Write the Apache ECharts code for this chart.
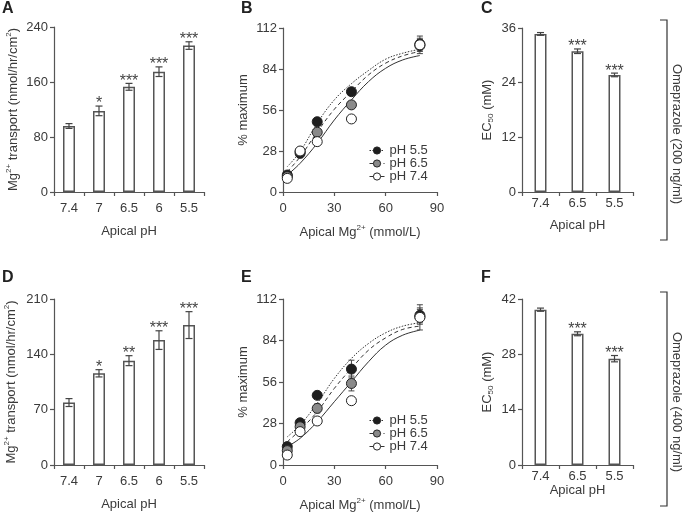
<!DOCTYPE html>
<html><head><meta charset="utf-8">
<script src="https://cdn.jsdelivr.net/npm/echarts@6/dist/echarts.min.js"></script>
<style>html,body{margin:0;padding:0;background:#fff}#c{width:685px;height:514px}</style>
</head><body><div id="c"></div>
<script>
// ---------- data ----------
const phCats5 = ['7.4', '7', '6.5', '6', '5.5'];
const phCats3 = ['7.4', '6.5', '5.5'];

const transportA = [96, 118, 153, 175, 213];
const transportAErr = [3.5, 7, 5, 7, 5.5];
const starsA = ['', '*', '***', '***', '***'];

const transportD = [79, 116, 132, 158, 177];
const transportDErr = [5, 4.6, 6.3, 11.8, 17];
const starsD = ['', '*', '**', '***', '***'];

const ec50C = [34.7, 30.9, 25.7];
const ec50CErr = [0.3, 0.5, 0.4];
const starsC = ['', '***', '***'];

const ec50F = [39.3, 33.2, 26.9];
const ec50FErr = [0.4, 0.5, 0.8];
const starsF = ['', '***', '***'];

const mgConc = [2.5, 10, 20, 40, 80];
const ptsB55 = [11.6, 26.4, 48, 68.5, 101];
const ptsB65 = [10.5, 27.5, 40.8, 59.5, 100];
const ptsB74 = [9.3, 28, 34.4, 49.9, 100.5];
const errB55 = [1.5, 3, 2, 2, 4];
const errB65 = [1.5, 2, 2, 2, 4];
const errB74 = [1.5, 2, 2, 2, 6];

const ptsE55 = [12.4, 28.5, 47, 64.7, 101];
const ptsE65 = [9.7, 25.8, 38.2, 55, 100];
const ptsE74 = [6.7, 22.5, 29.7, 43.4, 99.6];
const errE55 = [1.5, 2, 2, 6, 5];
const errE65 = [1.5, 2, 3, 5, 5];
const errE74 = [1.5, 2, 2, 2, 8.5];

const curveX = [2.5, 10, 20, 30, 40, 50, 60, 70, 80];
const curveB55 = [17.3, 27.6, 47, 62.9, 74, 83, 90.7, 94.8, 97.5];
const curveB65 = [13.9, 24, 41, 56.5, 68.6, 80, 88, 93, 96];
const curveB74 = [11.6, 19.6, 33.3, 49.2, 62.9, 75.4, 84.5, 90.2, 93.2];
const curveE55 = [19, 27, 41.6, 58.4, 71.9, 82, 89.2, 93.7, 96];
const curveE65 = [15.7, 23.6, 36, 51.7, 65.2, 77.5, 85.8, 91.5, 93.7];
const curveE74 = [12.4, 18, 29.2, 42.7, 56.2, 69.7, 80.9, 87.6, 91];

const legendNames = ['pH 5.5', 'pH 6.5', 'pH 7.4'];

// ---------- style helpers ----------
const FONT = '"Liberation Sans", Arial, Helvetica, sans-serif';
const TXT = '#3a3a3a';
const AX = '#555';

function zip(xs, ys) { return xs.map((x, i) => [x, ys[i]]); }

function axisCommon() {
  return {
    axisLine: { show: true, lineStyle: { color: AX, width: 1.2 } },
    axisTick: { show: true, length: 4, lineStyle: { color: AX, width: 1.2 } },
    splitLine: { show: false },
    axisLabel: { color: TXT, fontSize: 13, fontFamily: FONT },
    nameTextStyle: { color: TXT, fontSize: 13, fontFamily: FONT }
  };
}
const richBase = {
  n: { fontSize: 13, color: TXT, fontFamily: FONT, lineHeight: 16 },
  sup: { fontSize: 8, color: TXT, fontFamily: FONT, verticalAlign: 'top', lineHeight: 8 },
  sub: { fontSize: 8, color: TXT, fontFamily: FONT, verticalAlign: 'bottom', lineHeight: 8 }
};

function catX(gi, cats, nameGap, margin) {
  return Object.assign(axisCommon(), {
    type: 'category', gridIndex: gi, data: cats,
    name: 'Apical pH', nameLocation: 'middle', nameGap: nameGap,
    axisLabel: { color: TXT, fontSize: 13, fontFamily: FONT, margin: margin },
    axisTick: { show: true, length: 4, lineStyle: { color: AX, width: 1.2 } }
  });
}
function valY(gi, max, interval, name, nameGap) {
  return Object.assign(axisCommon(), {
    type: 'value', gridIndex: gi, min: 0, max: max, interval: interval,
    name: name, nameLocation: 'middle', nameGap: nameGap,
    nameTextStyle: { color: TXT, fontSize: 13, fontFamily: FONT, rich: richBase },
    axisLabel: { color: TXT, fontSize: 13, fontFamily: FONT, margin: 6 }
  });
}
function mgX(gi, nameGap) {
  return Object.assign(axisCommon(), {
    type: 'value', gridIndex: gi, min: 0, max: 90, interval: 30,
    name: '{n|Apical Mg}{sup|2+}{n| (mmol/L)}', nameLocation: 'middle', nameGap: nameGap,
    nameTextStyle: { color: TXT, fontSize: 13, fontFamily: FONT, rich: richBase },
    axisLabel: { color: TXT, fontSize: 13, fontFamily: FONT, margin: 10 }
  });
}

function barSeries(ax, vals, bw) {
  return {
    type: 'bar', xAxisIndex: ax, yAxisIndex: ax, data: vals, barWidth: bw,
    itemStyle: { color: '#fff', borderColor: '#555', borderWidth: 1.5 },
    silent: true, z: 2
  };
}
function barErr(ax, vals, errs, stars) {
  return {
    type: 'custom', xAxisIndex: ax, yAxisIndex: ax, z: 3, silent: true,
    data: vals.map((v, i) => [i, v, errs[i]]),
    encode: { x: 0, y: 1 },
    renderItem: function (params, api) {
      const i = api.value(0), v = api.value(1), e = api.value(2);
      const top = api.coord([i, v + e]);
      const bot = api.coord([i, v - e]);
      const w = 3.5;
      const st = { stroke: '#444', lineWidth: 1.2 };
      const children = [
        { type: 'line', shape: { x1: top[0], y1: top[1], x2: bot[0], y2: bot[1] }, style: st },
        { type: 'line', shape: { x1: top[0] - w, y1: top[1], x2: top[0] + w, y2: top[1] }, style: st },
        { type: 'line', shape: { x1: bot[0] - w, y1: bot[1], x2: bot[0] + w, y2: bot[1] }, style: st }
      ];
      const s = stars[params.dataIndex];
      if (s) {
        children.push({ type: 'text', x: top[0], y: top[1] - 2,
          style: { text: s, fill: '#444', fontSize: 16, fontFamily: FONT, align: 'center', verticalAlign: 'middle' } });
      }
      return { type: 'group', children: children };
    }
  };
}
function ptErr(ax, ys, errs) {
  return {
    type: 'custom', xAxisIndex: ax, yAxisIndex: ax, z: 3, silent: true,
    data: mgConc.map((x, i) => [x, ys[i], errs[i]]),
    encode: { x: 0, y: 1 },
    renderItem: function (params, api) {
      const x = api.value(0), v = api.value(1), e = api.value(2);
      const top = api.coord([x, v + e]);
      const bot = api.coord([x, v - e]);
      const w = 3;
      const st = { stroke: '#444', lineWidth: 1 };
      return { type: 'group', children: [
        { type: 'line', shape: { x1: top[0], y1: top[1], x2: bot[0], y2: bot[1] }, style: st },
        { type: 'line', shape: { x1: top[0] - w, y1: top[1], x2: top[0] + w, y2: top[1] }, style: st },
        { type: 'line', shape: { x1: bot[0] - w, y1: bot[1], x2: bot[0] + w, y2: bot[1] }, style: st }
      ] };
    }
  };
}
const fills = ['#1e1e1e', '#8a8a8a', '#ffffff'];
const dashes = [[1.5, 1.5], [4, 3], 'solid'];
function curve(ax, name, ys, k) {
  return {
    type: 'line', name: name, xAxisIndex: ax, yAxisIndex: ax, data: zip(curveX, ys),
    smooth: 0.4, showSymbol: false, symbol: 'circle', silent: true, z: 2,
    lineStyle: { color: '#333', width: 1, type: dashes[k] },
    itemStyle: { color: fills[k], borderColor: '#222', borderWidth: 1 }
  };
}
function pts(ax, ys, k) {
  return {
    type: 'scatter', name: 'pts' + ax + '_' + k, xAxisIndex: ax, yAxisIndex: ax,
    data: zip(mgConc, ys), symbol: 'circle', symbolSize: 10, silent: true, z: 4 + k,
    itemStyle: { color: fills[k], borderColor: '#222', borderWidth: 1, opacity: 1 }
  };
}
function legendAt(top) {
  return {
    data: legendNames, orient: 'vertical', left: 364, top: top,
    itemWidth: 15, itemHeight: 9, itemGap: 0, selectedMode: false,
    itemStyle: { borderWidth: 1, borderColor: '#222' },
    lineStyle: { width: 1 },
    textStyle: { color: TXT, fontSize: 13, fontFamily: FONT, lineHeight: 11.5 }
  };
}

const chart = echarts.init(document.getElementById('c'), null, { renderer: 'canvas' });

const option = {
  backgroundColor: '#fff',
  animation: false,
  textStyle: { fontFamily: FONT },
  grid: [
    { left: 54, top: 27, width: 150, height: 165 },
    { left: 283, top: 28, width: 154, height: 164 },
    { left: 522, top: 28, width: 111, height: 164 },
    { left: 54, top: 299, width: 150, height: 166 },
    { left: 283, top: 299, width: 154, height: 166 },
    { left: 522, top: 299, width: 111, height: 166 }
  ],
  xAxis: [
    catX(0, phCats5, 33, 10),
    mgX(1, 32),
    catX(2, phCats3, 27, 5),
    catX(3, phCats5, 33, 10),
    mgX(4, 32),
    catX(5, phCats3, 18, 5)
  ],
  yAxis: [
    valY(0, 240, 80, '{n|Mg}{sup|2+}{n| transport (nmol/hr/cm}{sup|2}{n|)}', 33),
    valY(1, 112, 28, '% maximum', 33),
    valY(2, 36, 12, '{n|EC}{sub|50}{n| (mM)}', 27),
    valY(3, 210, 70, '{n|Mg}{sup|2+}{n| transport (nmol/hr/cm}{sup|2}{n|)}', 35),
    valY(4, 112, 28, '% maximum', 33),
    valY(5, 42, 14, '{n|EC}{sub|50}{n| (mM)}', 27)
  ],
  legend: [legendAt(139), legendAt(409)],
  series: [
    barSeries(0, transportA, 12), barErr(0, transportA, transportAErr, starsA),
    barSeries(2, ec50C, 12), barErr(2, ec50C, ec50CErr, starsC),
    barSeries(3, transportD, 12), barErr(3, transportD, transportDErr, starsD),
    barSeries(5, ec50F, 12), barErr(5, ec50F, ec50FErr, starsF),

    curve(1, 'pH 5.5', curveB55, 0), curve(1, 'pH 6.5', curveB65, 1), curve(1, 'pH 7.4', curveB74, 2),
    ptErr(1, ptsB55, errB55), ptErr(1, ptsB65, errB65), ptErr(1, ptsB74, errB74),
    pts(1, ptsB55, 0), pts(1, ptsB65, 1), pts(1, ptsB74, 2),

    curve(4, 'pH 5.5', curveE55, 0), curve(4, 'pH 6.5', curveE65, 1), curve(4, 'pH 7.4', curveE74, 2),
    ptErr(4, ptsE55, errE55), ptErr(4, ptsE65, errE65), ptErr(4, ptsE74, errE74),
    pts(4, ptsE55, 0), pts(4, ptsE65, 1), pts(4, ptsE74, 2)
  ],
  graphic: [
    { type: 'text', left: 2, top: 1, style: { text: 'A', fontSize: 16, fontWeight: 'bold', fill: '#222', fontFamily: FONT } },
    { type: 'text', left: 241, top: 1, style: { text: 'B', fontSize: 16, fontWeight: 'bold', fill: '#222', fontFamily: FONT } },
    { type: 'text', left: 481, top: 1, style: { text: 'C', fontSize: 16, fontWeight: 'bold', fill: '#222', fontFamily: FONT } },
    { type: 'text', left: 2, top: 270, style: { text: 'D', fontSize: 16, fontWeight: 'bold', fill: '#222', fontFamily: FONT } },
    { type: 'text', left: 241, top: 270, style: { text: 'E', fontSize: 16, fontWeight: 'bold', fill: '#222', fontFamily: FONT } },
    { type: 'text', left: 481, top: 270, style: { text: 'F', fontSize: 16, fontWeight: 'bold', fill: '#222', fontFamily: FONT } },
    { type: 'polyline', shape: { points: [[660, 20], [667, 20], [667, 240], [660, 240]] }, style: { stroke: '#333', fill: null, lineWidth: 1.2 } },
    { type: 'polyline', shape: { points: [[660, 292], [667, 292], [667, 506], [660, 506]] }, style: { stroke: '#333', fill: null, lineWidth: 1.2 } },
    { type: 'text', x: 677, y: 134, rotation: -Math.PI / 2,
      style: { text: 'Omeprazole (200 ng/ml)', fontSize: 13, fill: TXT, fontFamily: FONT, align: 'center', verticalAlign: 'middle' } },
    { type: 'text', x: 677, y: 402, rotation: -Math.PI / 2,
      style: { text: 'Omeprazole (400 ng/ml)', fontSize: 13, fill: TXT, fontFamily: FONT, align: 'center', verticalAlign: 'middle' } }
  ]
};
chart.setOption(option);
</script>
</body></html>
